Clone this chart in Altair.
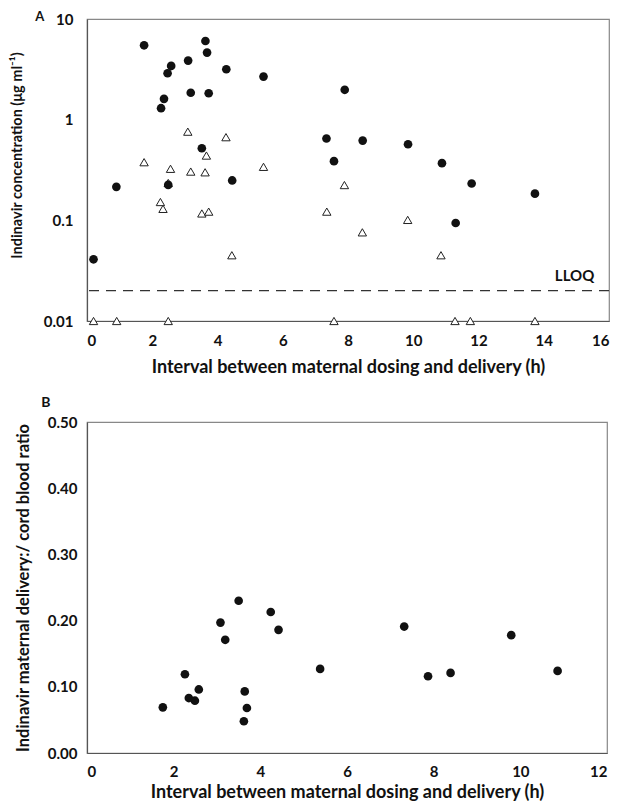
import altair as alt
import pandas as pd

# ---------- Panel A: indinavir concentration vs interval ----------
# maternal plasma (filled circles)
mat_time = [0.20, 0.90, 1.75, 2.27, 2.36, 2.47, 2.49, 2.58, 3.10, 3.18, 3.52, 3.63, 3.68,
            3.73, 4.27, 4.45, 5.41, 7.34, 7.57, 7.90, 8.45, 9.84, 10.88, 11.30, 11.79, 13.73]
mat_conc = [0.041, 0.215, 5.48, 1.30, 1.61, 2.89, 0.225, 3.42, 3.86, 1.85, 0.52, 6.05, 4.64,
            1.83, 3.17, 0.249, 2.68, 0.65, 0.387, 1.98, 0.62, 0.57, 0.37, 0.094, 0.232, 0.184]
# cord blood (open triangles)
cord_time = [0.20, 0.91, 1.75, 2.25, 2.33, 2.49, 2.49, 2.56, 3.09, 3.18, 3.52, 3.62, 3.66,
             3.73, 4.26, 4.44, 5.41, 7.35, 7.57, 7.89, 8.44, 9.83, 10.85, 11.28, 11.75, 13.73]
cord_conc = [0.01, 0.01, 0.378, 0.152, 0.130, 0.235, 0.01, 0.325, 0.76, 0.305, 0.117, 0.30, 0.44,
             0.122, 0.67, 0.045, 0.34, 0.122, 0.01, 0.224, 0.076, 0.101, 0.045, 0.01, 0.01, 0.01]
lloq_value = [0.02]
lloq_label = ["LLOQ"]
lloq_label_pos = [15.55]
lloq_label_y = [0.028]
xA_ticks = [0, 2, 4, 6, 8, 10, 12, 14, 16]
yA_ticks = [0.01, 0.1, 1, 10]

# ---------- Panel B: maternal delivery : cord blood ratio ----------
ratio_time = [1.75, 2.26, 2.35, 2.49, 2.58, 3.08, 3.19, 3.50, 3.62, 3.64, 3.69, 4.24, 4.42,
              5.38, 7.32, 7.87, 8.39, 9.79, 10.86]
ratio_val = [0.069, 0.119, 0.083, 0.079, 0.096, 0.197, 0.171, 0.230, 0.048, 0.093, 0.068, 0.213,
             0.186, 0.127, 0.191, 0.116, 0.121, 0.178, 0.124]
xB_ticks = [0, 2, 4, 6, 8, 10, 12]
yB_ticks = [0.0, 0.1, 0.2, 0.3, 0.4, 0.5]

FONT = "Lato"
XTITLE = "Interval between maternal dosing and delivery (h)"

df_mat = pd.DataFrame({"t": mat_time, "c": mat_conc})
df_cord = pd.DataFrame({"t": cord_time, "c": cord_conc})
df_lloq = pd.DataFrame({"c": lloq_value})
df_lab = pd.DataFrame({"t": lloq_label_pos, "c": lloq_label_y, "label": lloq_label})
df_ratio = pd.DataFrame({"t": ratio_time, "r": ratio_val})

xA = alt.X("t:Q", scale=alt.Scale(domain=[0, 16], nice=False),
           axis=alt.Axis(values=xA_ticks, title=XTITLE, labelPadding=12, titlePadding=10,
                         titleFontSize=18, labelFlush=True))
yA = alt.Y("c:Q", scale=alt.Scale(type="log", domain=[0.01, 10], nice=False),
           axis=alt.Axis(values=yA_ticks, format="~g", title="Indinavir concentration (μg ml⁻¹)",
                         labelPadding=14, titlePadding=19, titleFontSize=14.5, titleY=136))

tri = alt.Chart(df_cord).mark_point(shape="triangle-up", size=70, filled=True, fill="white",
                                    stroke="#222", strokeWidth=1, opacity=1).encode(x=xA, y=yA)
circ = alt.Chart(df_mat).mark_circle(size=75, color="#111", opacity=1).encode(x=xA, y=yA)
rule = alt.Chart(df_lloq).mark_rule(color="#333", strokeWidth=1.2, strokeDash=[10, 7]).encode(
    y=alt.Y("c:Q", scale=alt.Scale(type="log", domain=[0.01, 10], nice=False)))
lab = alt.Chart(df_lab).mark_text(font=FONT, fontSize=15, fontWeight="bold", align="right",
                                  baseline="middle", color="#111").encode(
    x=alt.X("t:Q"), y=alt.Y("c:Q"), text="label:N")

panelA = alt.layer(tri, circ, rule, lab).properties(
    width=522, height=302,
    title=alt.TitleParams("A", anchor="start", frame="bounds", dx=26, fontSize=13,
                          fontWeight="bold", font=FONT, offset=-12, color="#111"))

xB = alt.X("t:Q", scale=alt.Scale(domain=[0, 12], nice=False),
           axis=alt.Axis(values=xB_ticks, title=XTITLE, labelPadding=11, titlePadding=4,
                         titleFontSize=18, labelFlush=True))
yB = alt.Y("r:Q", scale=alt.Scale(domain=[0, 0.5], nice=False),
           axis=alt.Axis(values=yB_ticks, format=".2f",
                         title="Indinavir maternal delivery:/ cord blood ratio",
                         labelPadding=10, titlePadding=16, titleFontSize=16.5))
panelB = alt.Chart(df_ratio).mark_circle(size=75, color="#111", opacity=1).encode(
    x=xB, y=yB).properties(
    width=520, height=331,
    title=alt.TitleParams("B", anchor="start", frame="bounds", dx=26, fontSize=14,
                          fontWeight="bold", font=FONT, offset=5, color="#111"))

chart = alt.vconcat(panelA, panelB, spacing=18).properties(
    padding={"left": 0, "top": 2, "right": 0, "bottom": 0}
).configure_axis(
    labelFont=FONT, labelFontSize=15, labelFontWeight="bold", labelColor="#111",
    titleFont=FONT, titleFontWeight="bold", titleColor="#111",
    ticks=False, grid=False, domainColor="#555", domainWidth=1.2
).configure_view(stroke="#888", strokeWidth=1.2)

chart.save("out.html", embed_options={"renderer": "svg", "actions": False})
